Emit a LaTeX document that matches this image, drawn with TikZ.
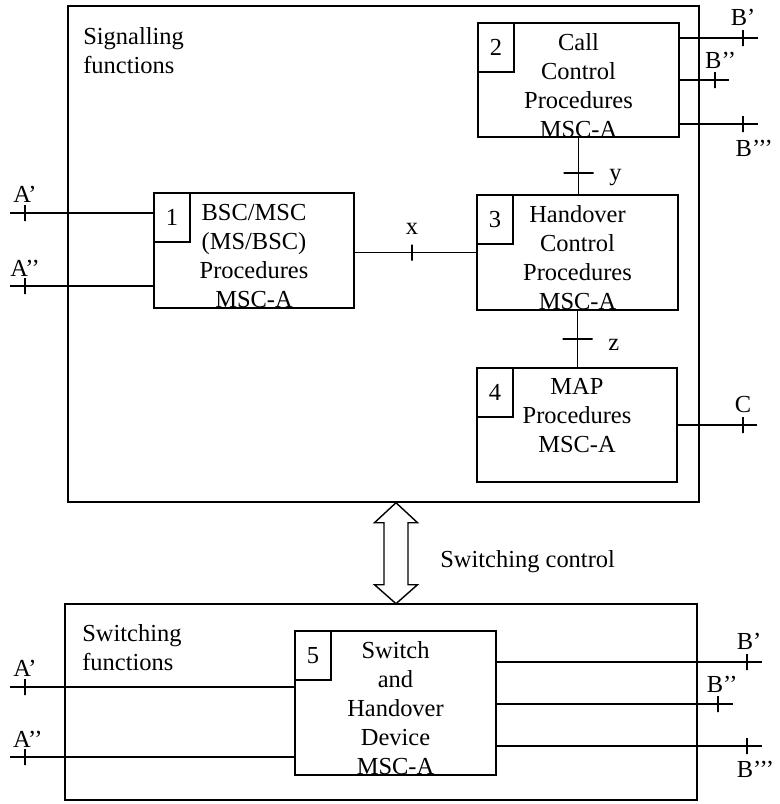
\documentclass[tikz,border=0pt]{standalone}
\usepackage{fontspec}
\setmainfont{Liberation Serif}
\usepackage{tikz}
\usetikzlibrary{positioning}
\newcommand{\pxu}{0.025cm}

\begin{document}
\begin{tikzpicture}[x=0.025cm, y=-0.025cm,
        every node/.style={font=\fontsize{17.4pt}{20.6pt}\selectfont},
        frame/.style={draw, line width=1pt, inner sep=0},
        block/.style={draw, line width=1pt, inner sep=0, minimum width=201*\pxu, minimum height=115*\pxu},
        numbox/.style={draw, line width=1pt, inner sep=0, minimum width=36*\pxu, minimum height=49*\pxu, anchor=north west},
        blocktext/.style={align=center, inner sep=0, anchor=north},
        line/.style={draw, line width=1pt},
        vtick/.style={draw, line width=1pt, inner sep=0, minimum width=0pt, minimum height=16*\pxu},
        htick/.style={draw, line width=1pt, inner sep=0, minimum height=0pt, minimum width=30*\pxu},
        lbl/.style={inner sep=0}
    ]
    \useasboundingbox (0,0) rectangle (779,804);

    % Frames
    \node[frame, minimum width=631*\pxu, minimum height=496*\pxu] (sig) at (383.5,254) {};
    \node[frame, minimum width=632*\pxu, minimum height=196*\pxu] (swf) at (381,702) {};
    \node[lbl, align=left, anchor=north west] (sigt) at (83,27.5) {Signalling\\functions};
    \node[lbl, align=left, anchor=north west] (swt) at (82,624.5) {Switching\\functions};

    % Blocks
    \node[block, minimum width=200*\pxu] (b1) at (254,250.5) {};
    \node[block, minimum height=114*\pxu] (b2) at (578.5,80) {};
    \node[block] (b3) at (577.5,252.5) {};
    \node[block, minimum width=200*\pxu, minimum height=114*\pxu] (b4) at (577,425) {};
    \node[block, minimum height=144*\pxu] (b5) at (395.5,703) {};

    \node[numbox] (n1) at (b1.north west) {1};
    \node[numbox] (n2) at (b2.north west) {2};
    \node[numbox] (n3) at (b3.north west) {3};
    \node[numbox] (n4) at (b4.north west) {4};
    \node[numbox] (n5) at (b5.north west) {5};

    \node[blocktext] (t1) at ([yshift=-8.2pt]b1.north) {BSC/MSC\\(MS/BSC)\\Procedures\\MSC-A};
    \node[blocktext] (t2) at ([yshift=-7.5pt]b2.north) {Call\\Control\\Procedures\\MSC-A};
    \node[blocktext] (t3) at ([yshift=-8pt]b3.north) {Handover\\Control\\Procedures\\MSC-A};
    \node[blocktext] (t4) at ([yshift=-8pt]b4.north) {MAP\\Procedures\\MSC-A};
    \node[blocktext] (t5) at ([yshift=-8pt]b5.north) {Switch\\and\\Handover\\Device\\MSC-A};

    % Line ends
    \coordinate (ea1) at (10,213);
    \coordinate (ea2) at (10,286);
    \coordinate (eb1) at (758,38);
    \coordinate (eb2) at (729,80);
    \coordinate (eb3) at (758,124);
    \coordinate (ec) at (757,425);
    \coordinate (fa1) at (10,687);
    \coordinate (fa2) at (10,757);
    \coordinate (fb1) at (762,662);
    \coordinate (fb2) at (733,704);
    \coordinate (fb3) at (762,746);

    % Connections
    \path[line] (ea1) -- (ea1 -| b1.west);
    \path[line] (ea2) -- (ea2 -| b1.west);
    \path[line] (b3.west -| b1.east) -- (b3.west);
    \path[line] (b2.south) -- (b2.south |- b3.north);
    \path[line] (b3.south) -- (b3.south |- b4.north);
    \path[line] (eb1 -| b2.east) -- (eb1);
    \path[line] (eb2 -| b2.east) -- (eb2);
    \path[line] (eb3 -| b2.east) -- (eb3);
    \path[line] (b4.east) -- (ec);
    \path[line] (fa1) -- (fa1 -| b5.west);
    \path[line] (fa2) -- (fa2 -| b5.west);
    \path[line] (fb1 -| b5.east) -- (fb1);
    \path[line] (fb2 -| b5.east) -- (fb2);
    \path[line] (fb3 -| b5.east) -- (fb3);

    % Ticks and labels
    \node[vtick] (ta1) at (25,213) {};
    \node[vtick] (ta2) at (25,286) {};
    \node[vtick] (tx) at (412,252.5) {};
    \node[htick] (ty) at (b2.south |- 0,173) {};
    \node[htick] (tz) at (b3.south |- 0,339) {};
    \node[vtick] (tb1) at (743,38) {};
    \node[vtick] (tb2) at (715,80) {};
    \node[vtick] (tb3) at (743,124) {};
    \node[vtick] (tc) at (743,425) {};
    \node[vtick] (sa1) at (25,687) {};
    \node[vtick] (sa2) at (25,757) {};
    \node[vtick] (sb1) at (747,662) {};
    \node[vtick] (sb2) at (718,704) {};
    \node[vtick] (sb3) at (747,746) {};

    \node[lbl, above=1.4pt of ta1] (la1) {A’};
    \node[lbl, above=0.7pt of ta2] (la2) {A’’};
    \node[lbl, above=6.4pt of tx] (lx) {x};
    \node[lbl, right=10.5pt of ty, yshift=-3.5pt] (ly) {y};
    \node[lbl, right=10.5pt of tz, yshift=-4.3pt] (lz) {z};
    \node[lbl, above=2.1pt of tb1] (lb1) {B’};
    \node[lbl, above=1.4pt of tb2, xshift=4pt] (lb2) {B’’};
    \node[lbl, below=5.4pt of tb3, xshift=8pt] (lb3) {B’’’};
    \node[lbl, above=2.1pt of tc] (lc) {C};
    \node[lbl, above=1.4pt of sa1] (ka1) {A’};
    \node[lbl, above=0.7pt of sa2, xshift=2pt] (ka2) {A’’};
    \node[lbl, above=2.8pt of sb1, xshift=1.5pt] (kb1) {B’};
    \node[lbl, above=2.1pt of sb2, xshift=3pt] (kb2) {B’’};
    \node[lbl, below=4.3pt of sb3, xshift=6pt] (kb3) {B’’’};

    % Switching control
    \coordinate (sc) at (sig.south -| 396,0);
    \draw[line width=1pt] (sc) -- ++(21.5,20) -- ++(-9.5,0) -- ++(0,62) -- ++(9.5,0) -- ++(-21.5,19)
        -- ++(-21.5,-19) -- ++(9.5,0) -- ++(0,-62) -- ++(-9.5,0) -- cycle;
    \node[lbl, anchor=base west] (sctl) at (440,567) {Switching control};

\end{tikzpicture}
\end{document}
